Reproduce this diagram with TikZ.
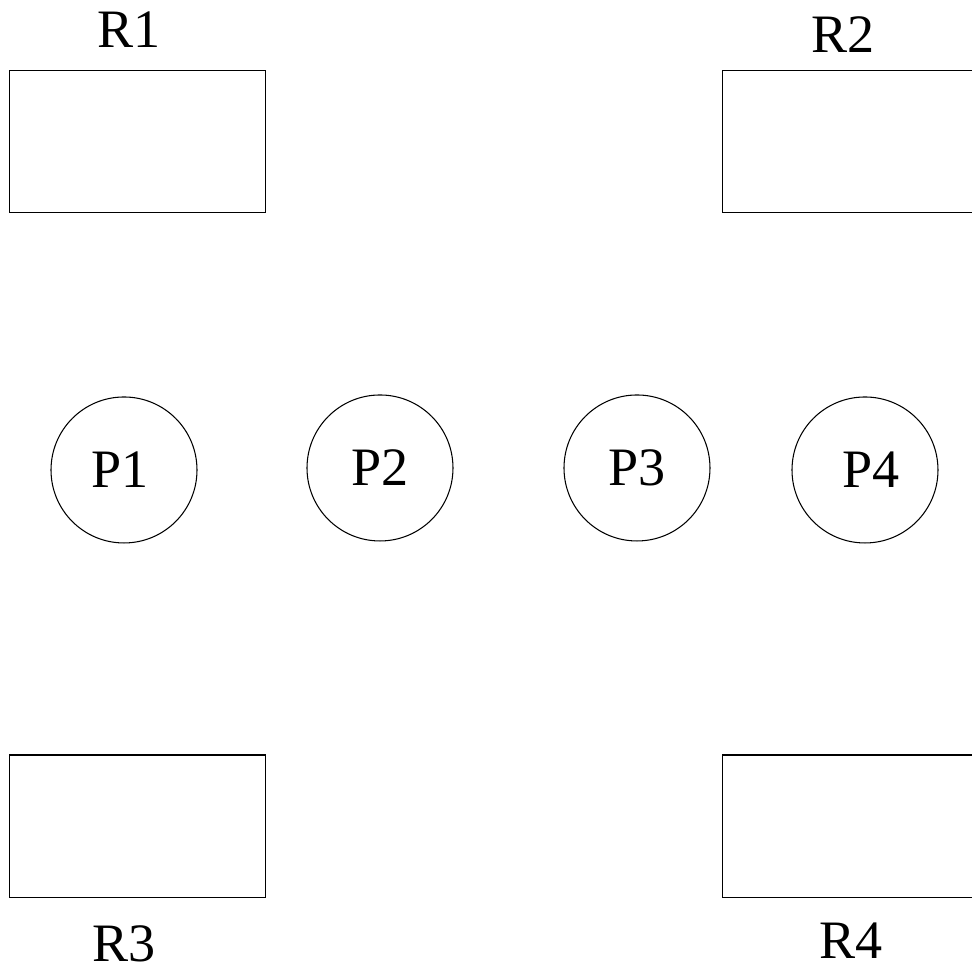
\documentclass[tikz,border=0pt]{standalone}
\usepackage{fontspec}
\setmainfont{Liberation Serif}
\usepackage{tikz}
\tikzstyle{ressource} = [rectangle, draw=black, line width=0.3pt, minimum height=1.425cm, minimum width=2.567cm, inner sep=0pt]
\tikzstyle{processus} = [circle, draw=black, line width=0.3pt, minimum size=1.46cm, inner sep=0pt, font=\fontsize{15.4}{18}\selectfont]
\tikzstyle{nom} = [anchor=base, inner sep=0pt, font=\fontsize{15.4}{18}\selectfont]

\begin{document}
\begin{tikzpicture}
        \useasboundingbox (0,0) rectangle (9.72,9.71);
        \clip (0,0) rectangle (9.72,9.71);

        \node (r1) [ressource] at (1.376,8.293) {};
        \node (r2) [ressource] at (8.507,8.293) {};
        \node (r3) [ressource] at (1.376,1.447) {};
        \node (r4) [ressource] at (8.507,1.447) {};

        \node (nr1) [nom] at (1.29,9.23) {R1};
        \node (nr2) [nom] at (8.43,9.18) {R2};
        \node (nr3) [nom] at (1.24,0.09) {R3};
        \node (nr4) [nom] at (8.51,0.12) {R4};

        \node (p1) [processus] at (1.24,5.01) {\raisebox{-0.05cm}{P1\hspace*{0.08cm}}};
        \node (p2) [processus] at (3.80,5.03) {P2};
        \node (p3) [processus] at (6.37,5.03) {P3};
        \node (p4) [processus] at (8.65,5.01) {\raisebox{-0.05cm}{\hspace*{0.12cm}P4}};
    \end{tikzpicture}
\end{document}
